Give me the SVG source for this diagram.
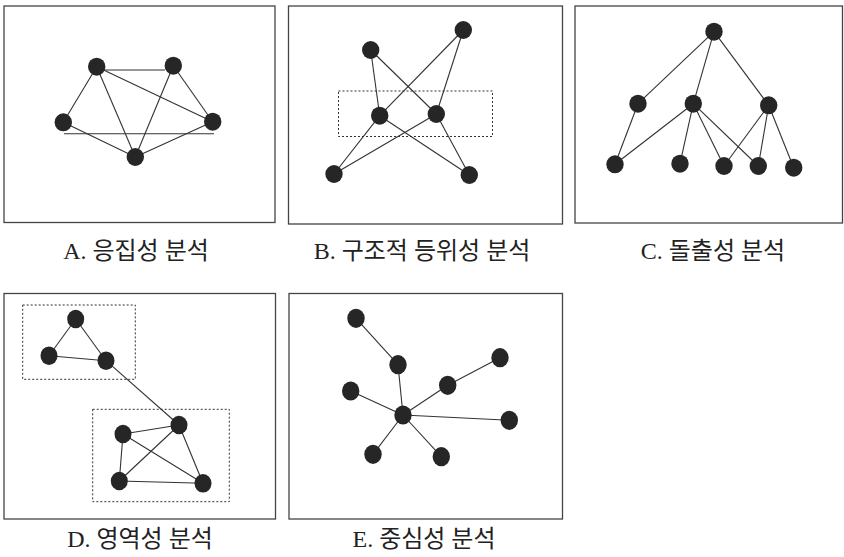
<svg xmlns="http://www.w3.org/2000/svg" width="844" height="557" viewBox="0 0 844 557">
<style>
.frame{fill:#fff;stroke:#444;stroke-width:1.3}
.box{fill:none;stroke:#333;stroke-width:1;stroke-dasharray:2 2}
.e{stroke:#333;stroke-width:1.1;fill:none}
.n{fill:#262626}
.lbl{font-family:"Liberation Serif","Noto Sans CJK KR",serif;font-size:24px;fill:#222;text-anchor:middle}
</style>
<rect width="844" height="557" fill="#fff"/>
<g id="frames">
<rect class="frame" x="4" y="6" width="271" height="216.5"/>
<rect class="frame" x="288.5" y="6" width="274" height="218"/>
<rect class="frame" x="575" y="6" width="267.5" height="217"/>
<rect class="frame" x="4" y="293.5" width="271.5" height="225.5"/>
<rect class="frame" x="289" y="293.5" width="273.5" height="225.5"/>
<rect class="box" x="338.5" y="91" width="154" height="45.5"/>
<rect class="box" x="22.7" y="305" width="112.6" height="74.3"/>
<rect class="box" x="92.7" y="409.3" width="136.6" height="92.4"/>
</g>
<g id="connectors">
<!-- A -->
<line class="e" x1="105" y1="70" x2="165" y2="70" stroke="#888"/>
<line class="e" x1="96.7" y1="66.7" x2="63.3" y2="122.3"/>
<line class="e" x1="96.7" y1="66.7" x2="135.3" y2="157"/>
<line class="e" x1="96.7" y1="66.7" x2="212.7" y2="121.7"/>
<line class="e" x1="173.3" y1="65.7" x2="135.3" y2="157"/>
<line class="e" x1="173.3" y1="65.7" x2="212.7" y2="121.7"/>
<line class="e" x1="63.3" y1="122.3" x2="135.3" y2="157"/>
<line class="e" x1="212.7" y1="121.7" x2="135.3" y2="157"/>
<line class="e" x1="64" y1="133.7" x2="214" y2="133.7"/>
<!-- B -->
<line class="e" x1="370.7" y1="50" x2="379.7" y2="115.7"/>
<line class="e" x1="370.7" y1="50" x2="436.3" y2="114"/>
<line class="e" x1="463.3" y1="30" x2="379.7" y2="115.7"/>
<line class="e" x1="463.3" y1="30" x2="436.3" y2="114"/>
<line class="e" x1="379.7" y1="115.7" x2="334" y2="174"/>
<line class="e" x1="379.7" y1="115.7" x2="469.3" y2="175"/>
<line class="e" x1="436.3" y1="114" x2="334" y2="174"/>
<line class="e" x1="436.3" y1="114" x2="469.3" y2="175"/>
<!-- C -->
<line class="e" x1="714" y1="31.7" x2="638" y2="103.7"/>
<line class="e" x1="714" y1="31.7" x2="693.3" y2="103.7"/>
<line class="e" x1="714" y1="31.7" x2="768.7" y2="105.3"/>
<line class="e" x1="638" y1="103.7" x2="615" y2="164.3"/>
<line class="e" x1="693.3" y1="103.7" x2="615" y2="164.3"/>
<line class="e" x1="693.3" y1="103.7" x2="680" y2="163.7"/>
<line class="e" x1="693.3" y1="103.7" x2="724" y2="166"/>
<line class="e" x1="693.3" y1="103.7" x2="758.3" y2="166"/>
<line class="e" x1="768.7" y1="105.3" x2="724" y2="166"/>
<line class="e" x1="768.7" y1="105.3" x2="758.3" y2="166"/>
<line class="e" x1="768.7" y1="105.3" x2="793.7" y2="167.7"/>
<!-- D -->
<line class="e" x1="75.7" y1="319" x2="49" y2="355.7"/>
<line class="e" x1="75.7" y1="319" x2="106" y2="360.7"/>
<line class="e" x1="49" y1="355.7" x2="106" y2="360.7"/>
<line class="e" x1="106" y1="360.7" x2="179" y2="425"/>
<line class="e" x1="123" y1="434" x2="179" y2="425"/>
<line class="e" x1="123" y1="434" x2="119.3" y2="481"/>
<line class="e" x1="123" y1="434" x2="203" y2="483.3"/>
<line class="e" x1="179" y1="425" x2="119.3" y2="481"/>
<line class="e" x1="179" y1="425" x2="203" y2="483.3"/>
<line class="e" x1="119.3" y1="481" x2="203" y2="483.3"/>
<!-- E -->
<line class="e" x1="356" y1="318.3" x2="398" y2="364.7"/>
<line class="e" x1="398" y1="364.7" x2="403" y2="415"/>
<line class="e" x1="350.7" y1="391" x2="403" y2="415"/>
<line class="e" x1="403" y1="415" x2="447.7" y2="385.3"/>
<line class="e" x1="447.7" y1="385.3" x2="500" y2="357.7"/>
<line class="e" x1="403" y1="415" x2="509.3" y2="420.3"/>
<line class="e" x1="403" y1="415" x2="373" y2="454.3"/>
<line class="e" x1="403" y1="415" x2="441.3" y2="456.7"/>
</g>
<g id="A1"><ellipse class="n" cx="96.7" cy="66.7" rx="8.7" ry="9"/></g>
<g id="A2"><ellipse class="n" cx="173.3" cy="65.7" rx="8.7" ry="9"/></g>
<g id="A3"><ellipse class="n" cx="63.3" cy="122.3" rx="8.7" ry="9"/></g>
<g id="A4"><ellipse class="n" cx="212.7" cy="121.7" rx="8.7" ry="9"/></g>
<g id="A5"><ellipse class="n" cx="135.3" cy="157" rx="8.7" ry="9"/></g>
<g id="B1"><ellipse class="n" cx="370.7" cy="50" rx="8.7" ry="9"/></g>
<g id="B2"><ellipse class="n" cx="463.3" cy="30" rx="8.7" ry="9"/></g>
<g id="B3"><ellipse class="n" cx="379.7" cy="115.7" rx="8.7" ry="9"/></g>
<g id="B4"><ellipse class="n" cx="436.3" cy="114" rx="8.7" ry="9"/></g>
<g id="B5"><ellipse class="n" cx="334" cy="174" rx="8.7" ry="9"/></g>
<g id="B6"><ellipse class="n" cx="469.3" cy="175" rx="8.7" ry="9"/></g>
<g id="C1"><ellipse class="n" cx="714" cy="31.7" rx="8.7" ry="9"/></g>
<g id="C2"><ellipse class="n" cx="638" cy="103.7" rx="8.7" ry="9"/></g>
<g id="C3"><ellipse class="n" cx="693.3" cy="103.7" rx="8.7" ry="9"/></g>
<g id="C4"><ellipse class="n" cx="768.7" cy="105.3" rx="8.7" ry="9"/></g>
<g id="C5"><ellipse class="n" cx="615" cy="164.3" rx="8.7" ry="9"/></g>
<g id="C6"><ellipse class="n" cx="680" cy="163.7" rx="8.7" ry="9"/></g>
<g id="C7"><ellipse class="n" cx="724" cy="166" rx="8.7" ry="9"/></g>
<g id="C8"><ellipse class="n" cx="758.3" cy="166" rx="8.7" ry="9"/></g>
<g id="C9"><ellipse class="n" cx="793.7" cy="167.7" rx="8.7" ry="9"/></g>
<g id="D1"><ellipse class="n" cx="75.7" cy="319" rx="8.5" ry="9.3"/></g>
<g id="D2"><ellipse class="n" cx="49" cy="355.7" rx="8.5" ry="9.3"/></g>
<g id="D3"><ellipse class="n" cx="106" cy="360.7" rx="8.5" ry="9.3"/></g>
<g id="D4"><ellipse class="n" cx="179" cy="425" rx="8.5" ry="9.3"/></g>
<g id="D5"><ellipse class="n" cx="123" cy="434" rx="8.5" ry="9.3"/></g>
<g id="D6"><ellipse class="n" cx="119.3" cy="481" rx="8.5" ry="9.3"/></g>
<g id="D7"><ellipse class="n" cx="203" cy="483.3" rx="8.5" ry="9.3"/></g>
<g id="E1"><ellipse class="n" cx="356" cy="318.3" rx="8.7" ry="9.6"/></g>
<g id="E2"><ellipse class="n" cx="398" cy="364.7" rx="8.7" ry="9.6"/></g>
<g id="E3"><ellipse class="n" cx="500" cy="357.7" rx="8.7" ry="9.6"/></g>
<g id="E4"><ellipse class="n" cx="350.7" cy="391" rx="8.7" ry="9.6"/></g>
<g id="E5"><ellipse class="n" cx="447.7" cy="385.3" rx="8.7" ry="9.6"/></g>
<g id="E6"><ellipse class="n" cx="403" cy="415" rx="8.7" ry="9.6"/></g>
<g id="E7"><ellipse class="n" cx="509.3" cy="420.3" rx="8.7" ry="9.6"/></g>
<g id="E8"><ellipse class="n" cx="373" cy="454.3" rx="8.7" ry="9.6"/></g>
<g id="E9"><ellipse class="n" cx="441.3" cy="456.7" rx="8.7" ry="9.6"/></g>
<g id="labels">
<text class="lbl" x="136" y="259">A. 응집성 분석</text>
<text class="lbl" x="422" y="259">B. 구조적 등위성 분석</text>
<text class="lbl" x="713" y="259">C. 돌출성 분석</text>
<text class="lbl" x="140" y="547">D. 영역성 분석</text>
<text class="lbl" x="424" y="547">E. 중심성 분석</text>
</g>
</svg>
